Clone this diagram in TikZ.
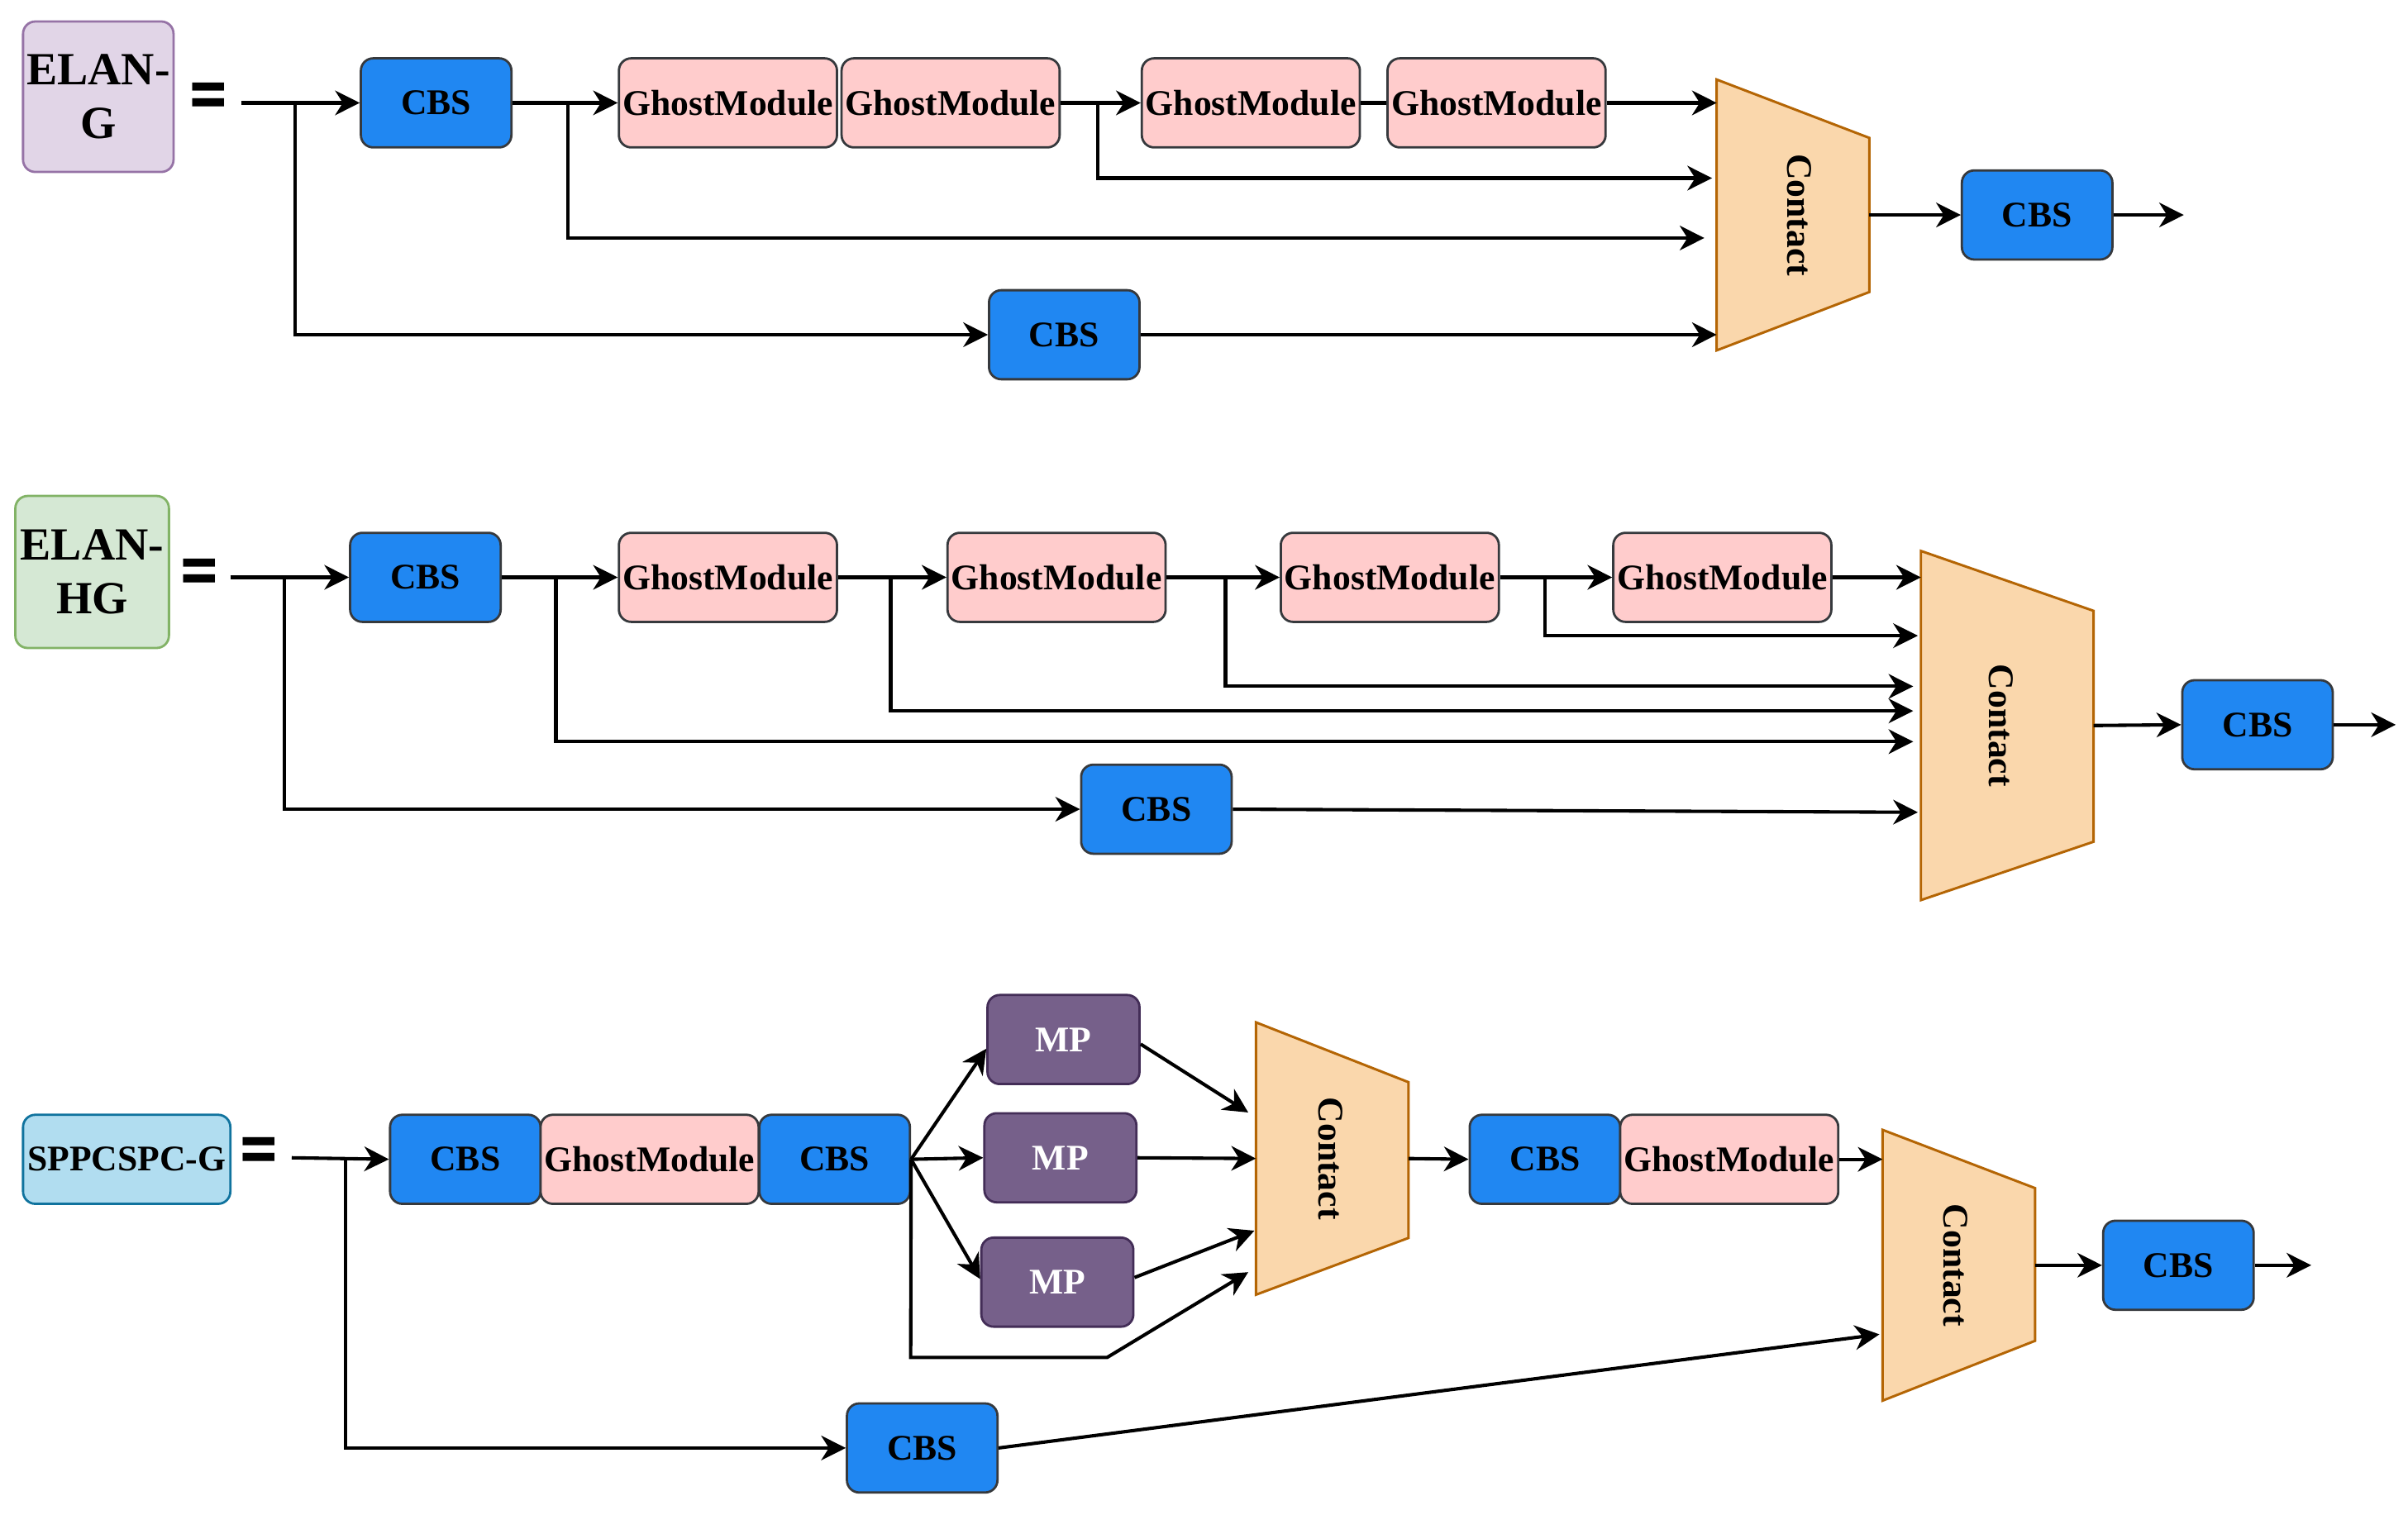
\documentclass[tikz,border=0pt]{standalone}
\usepackage{fontspec}
\setmainfont{Liberation Serif}
\newfontfamily\eqfont{DejaVu Sans}
\usetikzlibrary{arrows.meta,calc}
\definecolor{cbsblue}{RGB}{32,135,242}
\definecolor{gmpink}{HTML}{FFCCCC}
\definecolor{boxline}{HTML}{36393D}
\definecolor{mpfill}{HTML}{76608A}
\definecolor{mpline}{HTML}{432D57}
\definecolor{confill}{HTML}{FAD7AC}
\definecolor{conline}{HTML}{B46504}
\definecolor{elangfill}{HTML}{E1D5E7}
\definecolor{elangline}{HTML}{9673A6}
\definecolor{elanhgfill}{HTML}{D5E8D4}
\definecolor{elanhgline}{HTML}{82B366}
\definecolor{sppfill}{HTML}{B1DDF0}
\definecolor{sppline}{HTML}{10739E}
\begin{document}
\begin{tikzpicture}[x=1pt,y=-1pt,
  box/.style={rounded corners=8pt, draw=boxline, line width=1.5pt, inner sep=0pt,
    minimum height=58pt, font=\bfseries\fontsize{23.5}{28}\selectfont, align=center},
  cbs/.style={box, fill=cbsblue, minimum width=98pt},
  gm/.style={box, fill=gmpink, minimum width=142pt},
  mp/.style={box, fill=mpfill, draw=mpline, text=white, minimum width=99pt},
  title/.style={box, font=\bfseries\fontsize{30}{35}\selectfont},
  arr/.style={line width=2.2pt, -{Stealth[length=16pt,width=16pt,inset=5pt]}},
  ln/.style={line width=2.2pt},
  eqs/.style={font=\eqfont\bfseries\fontsize{46}{46}\selectfont, inner sep=0pt, xscale=0.72},
  cnode/.style={draw=none, inner sep=0pt},
  ctext/.style={rotate=-90, font=\bfseries\fontsize{23.5}{28}\selectfont, inner sep=0pt},
  cshape/.style={fill=confill, draw=conline, line width=1.6pt, line join=miter}
]
\fill[white] (0,0) rectangle (1568,986.6);
\useasboundingbox (0,0) rectangle (1568,986.6);

% ================= Row 1: ELAN-G =================
\node[title, fill=elangfill, draw=elangline, minimum width=98pt, minimum height=98pt] (elang) at (64,63) {ELAN-\\G};
\node[eqs] (eq1) at (136,65) {=};
\coordinate (in1) at (157,67);
\coordinate (b11) at (192,67);
\coordinate (b12) at (370,67);
\coordinate (b13) at (715,67);
\node[cbs] (cbs11) at (284,67) {CBS};
\node[gm] (gm11) at (474,67) {GhostModule};
\node[gm] (gm12) at (619,67) {GhostModule};
\node[gm] (gm13) at (814.5,67) {GhostModule};
\node[gm] (gm14) at (974.5,67) {GhostModule};
\node[cbs] (cbs12) at (693,218) {CBS};
\node[cnode, minimum width=99pt, minimum height=176pt] (c1) at (1167.5,140) {};
\draw[cshape] (c1.north west) -- ($(c1.north east)+(0,38)$) -- ($(c1.south east)+(0,-38)$) -- (c1.south west) -- cycle;
\node[ctext] at ($(c1.center)+(4,0)$) {Contact};
\node[cbs] (cbs13) at (1326.5,140) {CBS};
\coordinate (out1) at (1422,140);

\draw[arr] (in1) -- (cbs11.west);
\draw[arr] (b11) |- (cbs12.west);
\draw[arr] (cbs11.east) -- (gm11.west);
\draw[arr] (b12) |- ($(c1.west)+(-8,15)$);
\draw[arr] (gm12.east) -- (gm13.west);
\draw[arr] (b13) |- ($(c1.west)+(-3,-24)$);
\draw[ln] (gm13.east) -- (gm14.west);
\draw[arr] (gm14.east) -- (c1.west |- gm14.east);
\draw[arr] (cbs12.east) -- (c1.west |- cbs12.east);
\draw[arr] (c1.east) -- (cbs13.west);
\draw[arr] (cbs13.east) -- (out1);

% ================= Row 2: ELAN-HG =================
\node[title, fill=elanhgfill, draw=elanhgline, minimum width=100pt, minimum height=99pt] (elanhg) at (60,372.5) {ELAN-\\HG};
\node[eqs] (eq2) at (130,375) {=};
\coordinate (in2) at (150,376);
\coordinate (b21) at (185,376);
\coordinate (b22) at (362,376);
\coordinate (b23) at (580,376);
\coordinate (b24) at (798,376);
\coordinate (b25) at (1006,376);
\node[cbs] (cbs21) at (277,376) {CBS};
\node[gm] (gm21) at (474,376) {GhostModule};
\node[gm] (gm22) at (688,376) {GhostModule};
\node[gm] (gm23) at (905,376) {GhostModule};
\node[gm] (gm24) at (1121.5,376) {GhostModule};
\node[cbs] (cbs22) at (753,527) {CBS};
\node[cnode, minimum width=112pt, minimum height=227pt] (c2) at (1307,472.5) {};
\draw[cshape] (c2.north west) -- ($(c2.north east)+(0,39)$) -- ($(c2.south east)+(0,-38)$) -- (c2.south west) -- cycle;
\node[ctext] at ($(c2.center)+(-4,0)$) {Contact};
\node[cbs] (cbs23) at (1470,472) {CBS};
\coordinate (out2) at (1560,472);

\draw[arr] (in2) -- (cbs21.west);
\draw[arr] (b21) |- (cbs22.west);
\draw[arr] (cbs21.east) -- (gm21.west);
\draw[arr] (b22) |- ($(c2.west)+(-5,10.5)$);
\draw[arr] (gm21.east) -- (gm22.west);
\draw[arr] (b23) |- ($(c2.west)+(-5,-9.5)$);
\draw[arr] (gm22.east) -- (gm23.west);
\draw[arr] (b24) |- ($(c2.west)+(-5,-25.5)$);
\draw[arr] (gm23.east) -- (gm24.west);
\draw[arr] (b25) |- ($(c2.west)+(-2,-58.5)$);
\draw[arr] (gm24.east) -- (c2.west |- gm24.east);
\draw[arr] (cbs22.east) -- ($(c2.west)+(-2,56.5)$);
\draw[arr] (c2.east) -- (cbs23.west);
\draw[arr] (cbs23.east) -- (out2);

% ================= Row 3: SPPCSPC-G =================
\node[box, fill=sppfill, draw=sppline, minimum width=135pt] (spp) at (82.5,755) {SPPCSPC-G};
\node[eqs] (eq3) at (168.5,752) {=};
\coordinate (in3) at (190,754);
\coordinate (b31) at (225,754);
\node[cbs] (cbs31) at (303,755) {CBS};
\node[gm] (gm31) at (423,755) {GhostModule};
\node[cbs] (cbs32) at (543.5,755) {CBS};
\node[mp] (mp1) at (692.5,677) {MP};
\node[mp] (mp2) at (690.5,754) {MP};
\node[mp] (mp3) at (688.5,835) {MP};
\coordinate (b32) at (593,884);
\coordinate (b33) at (721,884);
\node[cnode, minimum width=99pt, minimum height=177pt] (c3) at (867.5,754.5) {};
\draw[cshape] (c3.north west) -- ($(c3.north east)+(0,39)$) -- ($(c3.south east)+(0,-37)$) -- (c3.south west) -- cycle;
\node[ctext] at ($(c3.center)+(-1,0)$) {Contact};
\node[cbs] (cbs33) at (1006,755) {CBS};
\node[gm] (gm32) at (1126,755) {GhostModule};
\node[cnode, minimum width=99pt, minimum height=176pt] (c4) at (1275.5,824) {};
\draw[cshape] (c4.north west) -- ($(c4.north east)+(0,38)$) -- ($(c4.south east)+(0,-39)$) -- (c4.south west) -- cycle;
\node[ctext] at ($(c4.center)+(-2,0)$) {Contact};
\node[cbs] (cbs34) at (1418.5,824) {CBS};
\coordinate (out3) at (1505,824);
\node[cbs] (cbs35) at (600.5,943) {CBS};

\draw[arr] (in3) -- (cbs31.west);
\draw[arr] (b31) |- (cbs35.west);
\draw[arr] (cbs32.east) -- ($(mp1.west)+(0,6)$);
\draw[arr] (cbs32.east) -- (mp2.west);
\draw[arr] (cbs32.east) -- ($(mp3.west)+(0,-2)$);
\draw[arr] ($(mp1.east)+(0,3)$) -- ($(c3.west)+(-5,-30)$);
\draw[arr] (mp2.east) -- (c3.west);
\draw[arr] ($(mp3.east)+(0,-3)$) -- ($(c3.west)+(-1,47)$);
\draw[arr] (cbs32.east) -- (b32) -- (b33) -- ($(c3.west)+(-5,74)$);
\draw[arr] (c3.east) -- (cbs33.west);
\draw[arr] (gm32.east) -- (c4.west |- gm32.east);
\draw[arr] (cbs35.east) -- ($(c4.west)+(-2,45)$);
\draw[arr] (c4.east) -- (cbs34.west);
\draw[arr] (cbs34.east) -- (out3);
\end{tikzpicture}
\end{document}
